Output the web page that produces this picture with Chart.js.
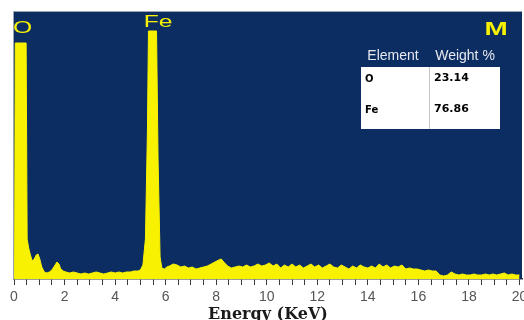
<!DOCTYPE html>
<html>
<head>
<meta charset="utf-8">
<script src="https://cdn.jsdelivr.net/npm/chart.js@4.4.1/dist/chart.umd.min.js"></script>
<style>
html,body{margin:0;padding:0;background:#fff;}
#wrap{width:524px;height:320px;position:relative;}
</style>
</head>
<body>
<div id="wrap"><canvas id="c" width="524" height="320"></canvas></div>
<script>
// ---- data (energy in keV, intensity in arbitrary units) ----
const energy = [0.02,0.05,0.48,0.52,0.58,0.65,0.72,0.8,0.88,0.95,1.02,1.1,1.2,1.3,1.4,1.5,1.6,1.7,1.78,1.85,1.95,2.05,2.2,2.35,2.5,2.65,2.8,2.95,3.1,3.25,3.4,3.55,3.7,3.85,4.0,4.15,4.3,4.45,4.6,4.75,4.9,5.0,5.1,5.2,5.28,5.32,5.64,5.7,5.78,5.85,5.95,6.05,6.15,6.3,6.45,6.6,6.75,6.9,7.05,7.2,7.35,7.5,7.65,7.8,7.95,8.1,8.2,8.3,8.45,8.6,8.75,8.9,9.05,9.2,9.35,9.5,9.65,9.8,9.95,10.1,10.25,10.4,10.55,10.7,10.85,11.0,11.15,11.3,11.45,11.6,11.75,11.9,12.05,12.2,12.35,12.5,12.65,12.8,12.95,13.1,13.25,13.4,13.55,13.7,13.85,14.0,14.15,14.3,14.45,14.6,14.75,14.9,15.05,15.2,15.35,15.5,15.65,15.8,15.95,16.1,16.25,16.4,16.55,16.7,16.85,17.0,17.15,17.3,17.45,17.6,17.75,17.9,18.05,18.2,18.35,18.5,18.65,18.8,18.95,19.1,19.25,19.4,19.55,19.7,19.85,20.0];
const counts = [0,236,236,40,31,24,18,20,24,25,20,12,7,6,7,9,13,17,15,10,8,7,6,7,6,5,6,5,6,7,6,5,6,7,6,7,6,7,7,8,8,9,14,40,150,248,248,120,22,11,10,12,13,15,14,12,13,11,12,10,11,12,13,15,17,19,20,17,13,11,12,13,12,14,12,13,15,13,14,16,13,15,11,14,12,15,12,14,11,13,15,12,14,11,13,15,12,11,14,12,10,13,11,14,12,11,13,11,15,12,14,11,13,12,14,10,11,10,10,9,8,9,8,8,4,3,4,7,5,4,5,4,4,5,4,4,5,4,5,4,5,6,4,5,4,4];
const tickLabels = ['0','2','4','6','8','10','12','14','16','18','20'];
const tickValues = [0,2,4,6,8,10,12,14,16,18,20];
const peakLabels = ['O','Fe'];
const peakLabelEnergy = [0.34,5.7];
const peakLabelLevel = [251,257];
const sampleLabel = 'M';
const tableHeader = ['Element','Weight %'];
const elements = ['O','Fe'];
const weights = ['23.14','76.86'];

const points = energy.map((e,i)=>({x:e,y:counts[i]}));

const BLUE = '#0b2d62';
const YELLOW = '#f8f200';

const bgPlugin = {
  id:'bg',
  beforeDatasetsDraw(chart){
    const {ctx, chartArea:a} = chart;
    ctx.save();
    ctx.fillStyle = BLUE;
    ctx.fillRect(a.left, a.top, a.right-a.left, a.bottom-a.top);
    ctx.strokeStyle = '#9aa3b0';
    ctx.lineWidth = 1;
    ctx.beginPath();
    ctx.moveTo(a.left-0.5, a.bottom);
    ctx.lineTo(a.left-0.5, a.top-0.5);
    ctx.lineTo(a.right, a.top-0.5);
    ctx.stroke();
    ctx.restore();
  }
};

function stretched(ctx, text, cx, cy, sx){
  ctx.save();
  ctx.translate(cx, cy);
  ctx.scale(sx, 1);
  ctx.fillText(text, 0, 0);
  ctx.restore();
}

const annPlugin = {
  id:'ann',
  afterDatasetsDraw(chart){
    const {ctx, chartArea:a} = chart;
    const xs = chart.scales.x, ys = chart.scales.y;
    ctx.save();
    ctx.textAlign = 'center';
    ctx.textBaseline = 'middle';
    ctx.fillStyle = YELLOW;
    ctx.font = '17px "Liberation Sans", Arial, sans-serif';
    peakLabels.forEach((t,i)=>{
      stretched(ctx, t, xs.getPixelForValue(peakLabelEnergy[i]), ys.getPixelForValue(peakLabelLevel[i]), 1.45);
    });
    ctx.font = 'bold 18px "Liberation Sans", Arial, sans-serif';
    stretched(ctx, sampleLabel, a.right-26, a.top+18, 1.55);

    // table
    const bx = a.right-161, by = a.top+55, bw = 139, bh = 62, div = 68;
    ctx.fillStyle = '#e6e8f0';
    ctx.font = '14px "Liberation Sans", Arial, sans-serif';
    ctx.fillText(tableHeader[0], bx+32, by-11);
    ctx.fillText(tableHeader[1], bx+104, by-11);
    ctx.fillStyle = '#ffffff';
    ctx.fillRect(bx, by, bw, bh);
    ctx.strokeStyle = '#c4c4c4';
    ctx.lineWidth = 1;
    ctx.beginPath();
    ctx.moveTo(bx+div+0.5, by);
    ctx.lineTo(bx+div+0.5, by+bh);
    ctx.stroke();
    ctx.fillStyle = '#000';
    ctx.textAlign = 'left';
    ctx.font = 'bold 10px "DejaVu Sans", Verdana, sans-serif';
    const rowY = [by+12, by+43];
    elements.forEach((t,i)=>ctx.fillText(t, bx+4, rowY[i]));
    ctx.font = 'bold 11px "DejaVu Sans", Verdana, sans-serif';
    weights.forEach((t,i)=>ctx.fillText(t, bx+div+5, rowY[i]-1));
    ctx.restore();
  }
};

new Chart(document.getElementById('c'), {
  type:'line',
  data:{datasets:[{
    data: points,
    borderColor: YELLOW,
    backgroundColor: YELLOW,
    borderWidth: 1,
    fill: 'origin',
    pointRadius: 0,
    tension: 0
  }]},
  options:{
    responsive:false,
    animation:false,
    events:[],
    layout:{padding:{left:14,right:2,top:12,bottom:0}},
    plugins:{legend:{display:false}, tooltip:{enabled:false}},
    scales:{
      x:{
        type:'linear',
        min:0, max:20.1,
        afterBuildTicks(scale){
          const t=[];
          for(let v=0; v<=20; v+=0.5) t.push({value:v});
          scale.ticks = t;
        },
        afterFit(scale){ scale.height = 41; scale.paddingLeft = 0; scale.paddingRight = 0; },
        border:{display:true,color:'#3a3a3a',width:1.5},
        grid:{display:true,drawOnChartArea:false,drawTicks:true,tickLength:6,color:'#3a3a3a',lineWidth:1},
        ticks:{
          autoSkip:false, maxRotation:0, padding:4,
          color:'#555',
          font:{family:'"Liberation Sans", Arial, sans-serif', size:14},
          callback(v){ const i = tickValues.indexOf(v); return i>=0 ? tickLabels[i] : ''; }
        },
        title:{display:true,text:'Energy (KeV)',color:'#1a1a1a',padding:{top:0,bottom:-4},
          font:{family:'"DejaVu Serif", serif', weight:'bold', size:16}}
      },
      y:{display:false,min:0,max:267}
    }
  },
  plugins:[bgPlugin, annPlugin]
});
</script>
</body>
</html>
